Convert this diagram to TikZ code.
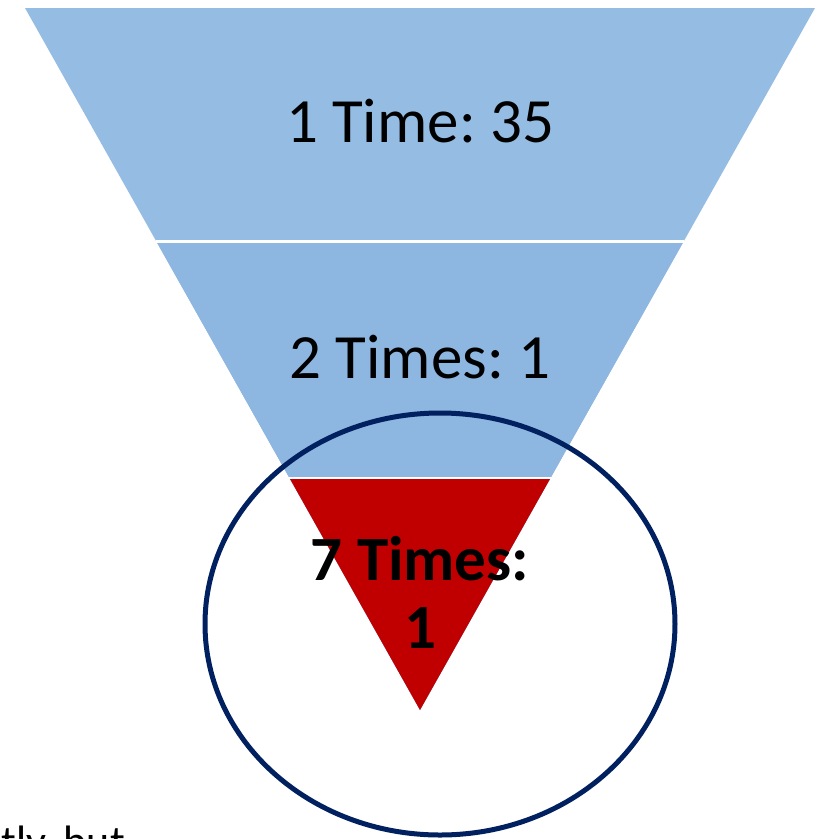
\documentclass[tikz,border=0pt]{standalone}
\usepackage{fontspec}
\setmainfont{Carlito}
\usetikzlibrary{calc}
\definecolor{topblue}{HTML}{95BDE3}
\definecolor{midblue}{HTML}{8DB6E1}
\definecolor{funnelred}{HTML}{C00000}
\definecolor{ringblue}{HTML}{002060}
\frenchspacing

\begin{document}
\begin{tikzpicture}[x=1pt,y=-1pt]
        \useasboundingbox (0,0) rectangle (821,839);

        % Funnel corners
        \coordinate (TL) at (25,8);
        \coordinate (TR) at (815,8);
        \coordinate (tip) at (420,710);

        % Fill the three bands
        \fill[topblue] (TL) -- (TR) -- (tip) -- cycle;
        \fill[midblue] ($(TL)!0.3326!(tip)$) -- ($(TR)!0.3326!(tip)$) -- (tip) -- cycle;
        \fill[funnelred] ($(TL)!0.6695!(tip)$) -- ($(TR)!0.6695!(tip)$) -- (tip) -- cycle;

        % White gaps between the bands
        \draw[white, line width=2.5pt] ($(TL)!0.3326!(tip)$) -- ($(TR)!0.3326!(tip)$);
        \draw[white, line width=2.5pt] ($(TL)!0.6695!(tip)$) -- ($(TR)!0.6695!(tip)$);

        % Band labels
        \node[anchor=base, inner sep=0] (once) at (420,142) {\fontsize{63}{68}\selectfont 1 Time: 35};
        \node[anchor=base, inner sep=0] (twice) at (420,378) {\fontsize{63}{68}\selectfont 2 Times: 1};
        \node[anchor=base, inner sep=0] (seven) at (420,580) {\fontsize{63}{68}\selectfont\bfseries 7 Times:};
        \node[anchor=base, inner sep=0] (sevenval) at (420,648) {\fontsize{63}{68}\selectfont\bfseries 1};

        % Ring round the bottom band
        \draw[ringblue, line width=5pt] (440,624) ellipse [x radius=235pt, y radius=211pt];

        % Cut-off text at the bottom left
        \node[anchor=base east, inner sep=0] (tail) at (125,856) {\fontsize{44}{50}\selectfont tly, but};
\end{tikzpicture}
\end{document}
